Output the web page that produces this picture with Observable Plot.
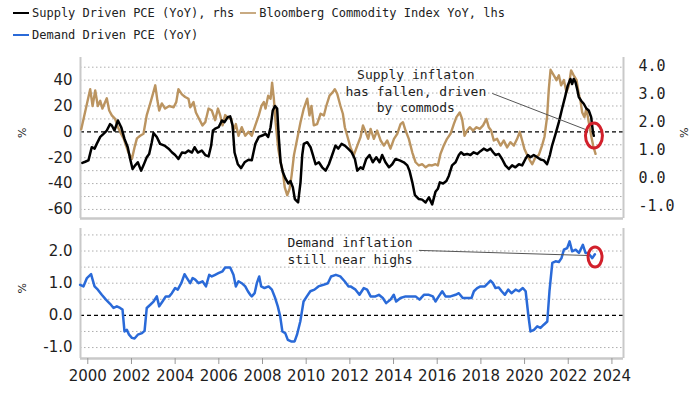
<!DOCTYPE html>
<html><head><meta charset="utf-8">
<script src="https://cdn.jsdelivr.net/npm/d3@7"></script>
<script src="https://cdn.jsdelivr.net/npm/@observablehq/plot@0.6"></script>
<style>
body{margin:0;background:#fff;}
#wrap{position:relative;width:700px;height:394px;overflow:hidden;font-family:"DejaVu Sans Mono",monospace;background:#fff;}
.leg{position:absolute;left:13px;font-size:12px;color:#222;white-space:nowrap;line-height:14px;}
.sw{display:inline-block;width:16px;height:2px;vertical-align:middle;margin-right:3px;position:relative;top:-1px}
#top{position:absolute;left:0;top:45px}
#bot{position:absolute;left:0;top:223px}
</style></head><body>
<div id="wrap">
<div class="leg" style="top:6px"><span class="sw" style="background:#000"></span>Supply Driven PCE (YoY), rhs<span class="sw" style="background:#c8aa82;margin-left:6px"></span>Bloomberg Commodity Index YoY, lhs</div>
<div class="leg" style="top:28px"><span class="sw" style="background:#2a6ad8"></span>Demand Driven PCE (YoY)</div>
<div id="top"></div><div id="bot"></div>
</div>
<script>
// ---- Data (decimal years) ----
const supplyYears = [1999.75,1999.88,2000.03,2000.18,2000.31,2000.41,2000.57,2000.72,2000.87,2001.02,2001.10,2001.22,2001.38,2001.53,2001.68,2001.83,2001.94,2002.05,2002.17,2002.29,2002.44,2002.55,2002.70,2002.81,2002.93,2003.01,2003.16,2003.31,2003.51,2003.70,2003.85,2004.00,2004.15,2004.31,2004.46,2004.61,2004.77,2004.89,2005.04,2005.22,2005.38,2005.53,2005.65,2005.73,2005.86,2005.99,2006.14,2006.26,2006.41,2006.52,2006.63,2006.72,2006.87,2007.02,2007.18,2007.36,2007.51,2007.67,2007.83,2007.99,2008.14,2008.26,2008.37,2008.47,2008.57,2008.67,2008.75,2008.83,2008.93,2009.05,2009.18,2009.28,2009.39,2009.48,2009.63,2009.74,2009.82,2009.89,2010.05,2010.20,2010.31,2010.43,2010.58,2010.73,2010.89,2011.04,2011.19,2011.34,2011.47,2011.62,2011.77,2011.92,2012.08,2012.23,2012.34,2012.49,2012.60,2012.75,2012.90,2013.05,2013.21,2013.36,2013.48,2013.63,2013.79,2013.94,2014.09,2014.28,2014.47,2014.63,2014.73,2014.86,2014.98,2015.16,2015.31,2015.47,2015.62,2015.77,2015.92,2016.03,2016.12,2016.27,2016.42,2016.53,2016.68,2016.84,2016.99,2017.09,2017.22,2017.37,2017.52,2017.67,2017.83,2017.98,2018.13,2018.29,2018.44,2018.56,2018.67,2018.82,2018.97,2019.12,2019.28,2019.43,2019.58,2019.74,2019.89,2020.04,2020.15,2020.27,2020.42,2020.58,2020.73,2020.88,2021.03,2021.16,2021.26,2021.42,2021.57,2021.72,2021.87,2021.98,2022.10,2022.18,2022.25,2022.33,2022.41,2022.48,2022.59,2022.71,2022.83,2022.94,2023.05,2023.13,2023.17];
const supplyValues = [0.54,0.58,0.63,1.10,1.05,1.22,1.47,1.58,1.70,1.93,1.88,1.70,2.06,1.82,1.40,1.10,0.68,0.32,0.45,0.56,0.26,0.45,0.74,0.86,1.28,1.61,1.47,1.22,1.16,1.05,0.92,0.82,0.68,0.91,0.89,0.98,0.91,1.10,0.91,0.98,0.82,0.77,1.16,1.70,1.78,1.82,2.06,2.00,2.18,2.21,1.88,0.91,0.49,0.35,0.56,0.65,0.63,1.22,1.47,1.52,1.58,1.47,1.82,2.42,2.58,2.49,1.40,0.56,0.21,-0.02,-0.20,-0.11,-0.34,-0.76,-0.88,-0.16,0.82,1.22,1.28,1.10,0.82,0.49,0.56,0.38,0.26,0.49,0.82,1.16,1.05,1.22,1.16,1.05,0.92,0.68,0.26,0.38,0.32,0.68,0.82,0.56,0.74,0.56,0.82,0.56,0.38,0.49,0.68,0.63,0.56,0.45,0.26,-0.16,-0.62,-0.76,-0.78,-0.88,-0.70,-0.95,-0.50,-0.39,-0.16,-0.20,-0.11,0.07,0.45,0.56,0.82,0.92,0.83,0.86,0.82,0.92,0.86,0.96,1.05,0.98,1.05,0.92,0.82,0.86,0.68,0.45,0.32,0.45,0.38,0.49,0.45,0.68,0.82,0.74,0.82,0.74,0.66,0.63,0.49,0.82,1.16,1.58,2.00,2.49,2.95,3.32,3.55,3.37,3.55,3.44,3.18,2.91,2.77,2.66,2.49,2.42,2.18,1.65,1.51];

const commodityYears = [1999.70,2000.11,2000.22,2000.34,2000.46,2000.57,2000.67,2000.87,2000.98,2001.10,2001.25,2001.38,2001.48,2001.64,2001.86,2002.02,2002.14,2002.25,2002.40,2002.55,2002.70,2002.86,2002.96,2003.09,2003.19,2003.27,2003.39,2003.54,2003.73,2003.93,2004.05,2004.15,2004.31,2004.46,2004.61,2004.69,2004.84,2004.95,2005.10,2005.25,2005.38,2005.53,2005.68,2005.83,2005.96,2006.06,2006.17,2006.29,2006.41,2006.57,2006.67,2006.78,2006.90,2007.05,2007.21,2007.36,2007.51,2007.67,2007.83,2007.95,2008.06,2008.14,2008.26,2008.37,2008.44,2008.52,2008.60,2008.72,2008.83,2008.93,2009.02,2009.13,2009.24,2009.33,2009.44,2009.59,2009.74,2009.89,2010.05,2010.15,2010.24,2010.35,2010.50,2010.66,2010.81,2010.92,2011.07,2011.22,2011.31,2011.42,2011.57,2011.68,2011.77,2011.88,2012.03,2012.18,2012.34,2012.49,2012.60,2012.72,2012.84,2012.95,2013.10,2013.25,2013.41,2013.56,2013.71,2013.86,2014.02,2014.17,2014.32,2014.43,2014.55,2014.70,2014.86,2015.01,2015.16,2015.31,2015.47,2015.62,2015.77,2015.92,2016.03,2016.15,2016.30,2016.45,2016.61,2016.76,2016.88,2017.03,2017.14,2017.25,2017.37,2017.49,2017.64,2017.80,2017.95,2018.10,2018.25,2018.36,2018.47,2018.59,2018.74,2018.90,2019.05,2019.20,2019.35,2019.51,2019.66,2019.78,2019.89,2019.99,2020.12,2020.24,2020.35,2020.50,2020.65,2020.80,2020.91,2021.03,2021.11,2021.19,2021.34,2021.46,2021.57,2021.67,2021.80,2021.92,2022.03,2022.13,2022.25,2022.38,2022.48,2022.56,2022.64,2022.74,2022.83,2022.94,2023.05,2023.14,2023.25];
const commodityValues = [2,33,20,32,20,24,18,26,16.5,12.7,10,3.6,0,-5,-16,-21,-12,-5,-3,-1.5,13,22,28,36,24,16.5,22,18,20,19,23,33,29,27,25.6,19,23,15,10,5,7.5,18,16.5,9,18,13,5,13,11,10,1,6,-3,3.6,-3,0,-3,5,12.7,20,23,18,28,25.6,38,25.6,7.5,-13,-23.5,-31,-43,-49,-44,-34,-18,-5.4,7.5,18,25.6,12.7,20,5,6,14,12.7,20,28,30.7,33,29.5,20,14,3.6,-3,-12,-18,-10.6,-4,5,0,-5.4,2.3,-5.4,1,-6.7,-10.6,-6.7,-13,-5.4,-1.5,6,7.5,1,-5.4,-16,-23.5,-26,-25,-27.4,-25.6,-26,-25,-26,-17,-10.6,-5.4,-1.5,6,11.4,15,10,-3,1,3.6,1,3.6,2.3,5,10,3.6,1,-6.7,-5.4,-10.6,-6.7,-12,-8,-10.6,-5.4,0,-6.7,-13,-18,-22,-25,-19.6,-18,-10.6,-4,11.4,33,48,43.7,40,43.7,36,40,30.7,36,47.5,43.7,40,29.5,24,15,11.4,18,7.5,-3,-10.6,-17];

const demandYears = [1999.65,1999.80,1999.96,2000.15,2000.22,2000.31,2000.46,2000.64,2000.83,2001.02,2001.18,2001.33,2001.48,2001.59,2001.68,2001.79,2001.89,2002.02,2002.14,2002.29,2002.48,2002.60,2002.70,2002.86,2003.01,2003.16,2003.27,2003.42,2003.57,2003.73,2003.85,2004.00,2004.12,2004.28,2004.43,2004.54,2004.69,2004.80,2004.92,2005.07,2005.25,2005.41,2005.56,2005.68,2005.83,2005.98,2006.17,2006.29,2006.52,2006.67,2006.78,2006.90,2007.05,2007.21,2007.33,2007.44,2007.51,2007.64,2007.74,2007.85,2007.94,2008.09,2008.28,2008.43,2008.58,2008.70,2008.81,2008.91,2009.04,2009.16,2009.31,2009.47,2009.58,2009.73,2009.88,2010.03,2010.19,2010.38,2010.56,2010.79,2010.99,2011.14,2011.36,2011.56,2011.76,2011.94,2012.03,2012.26,2012.44,2012.64,2012.79,2012.95,2013.17,2013.33,2013.51,2013.66,2013.86,2014.01,2014.12,2014.32,2014.55,2014.78,2015.01,2015.19,2015.39,2015.62,2015.80,2015.92,2016.07,2016.23,2016.38,2016.61,2016.84,2016.99,2017.17,2017.37,2017.57,2017.68,2017.83,2017.98,2018.18,2018.33,2018.44,2018.55,2018.67,2018.82,2018.95,2019.10,2019.25,2019.40,2019.59,2019.74,2019.92,2020.05,2020.17,2020.27,2020.43,2020.58,2020.73,2020.88,2021.04,2021.14,2021.27,2021.42,2021.57,2021.69,2021.80,2021.95,2022.06,2022.18,2022.34,2022.49,2022.67,2022.79,2022.91,2023.10,2023.22];
const demandValues = [0.95,0.90,1.16,1.28,1.11,0.90,0.80,0.64,0.49,0.36,0.23,0.28,0.23,0.18,-0.50,-0.45,-0.60,-0.70,-0.72,-0.60,-0.55,-0.48,0.23,0.33,0.43,0.59,0.28,0.43,0.59,0.59,0.69,0.85,0.80,1.00,1.28,1.16,1.00,1.16,1.11,1.00,1.06,0.90,1.26,1.21,1.26,1.31,1.37,1.49,1.49,1.26,0.90,1.06,1.00,0.90,0.75,0.64,0.59,0.69,1.00,1.21,0.90,0.85,0.90,0.80,0.54,0.28,-0.03,-0.50,-0.55,-0.76,-0.81,-0.81,-0.60,-0.19,0.43,0.59,0.75,0.80,0.90,0.95,1.00,1.21,1.26,1.21,1.06,0.90,0.90,0.80,0.64,0.85,0.80,0.59,0.59,0.64,0.54,0.38,0.49,0.64,0.43,0.54,0.59,0.59,0.59,0.49,0.64,0.64,0.59,0.43,0.59,0.75,0.59,0.59,0.64,0.69,0.54,0.54,0.54,0.75,0.85,0.90,0.90,1.00,1.08,1.00,0.85,0.87,0.75,0.64,0.80,0.69,0.80,0.75,0.85,0.75,0.02,-0.50,-0.45,-0.34,-0.39,-0.29,-0.19,0.75,1.63,1.68,1.66,1.78,2.04,2.09,2.30,1.99,2.04,1.94,2.19,1.94,1.94,1.78,1.90];

const leftTicks = [-60,-40,-20,0,20,40];
const rightTicks = [-1,0,1,2,3,4];
const demandTicks = [-1,0,1,2];
const xTicks = [2000,2002,2004,2006,2008,2010,2012,2014,2016,2018,2020,2022,2024];
const leftGrid = [-60,-50,-40,-30,-20,-10,10,20,30,40,50];
const demandGrid = [-1,-0.5,0.5,1,1.5,2,2.5];

const supplyNote = "Supply inflaton\nhas fallen, driven\nby commods";
const demandNote = "Demand inflation\nstill near highs";

// ---- build ----
const toL = r => r * 21.55 - 35.6;     // rhs -> lhs units
const fromL = l => (l + 35.6) / 21.55;
const xDomain = [1999.666, 2024.53];
const yTop = [-67, 57.5];
const yBot = [-1.34, 2.70];

const supply = supplyYears.map((t, i) => ({t, v: supplyValues[i]}));
const commodity = commodityYears.map((t, i) => ({t, v: commodityValues[i]}));
const demand = demandYears.map((t, i) => ({t, v: demandValues[i]}));

const gray = "#c9c9c9";
const ink = "#1e1e1e";

const topPlot = Plot.plot({
  width: 700, height: 178,
  marginLeft: 80, marginRight: 77, marginTop: 12, marginBottom: 5,
  x: {domain: xDomain, axis: null},
  y: {domain: yTop},
  style: {fontFamily: "DejaVu Sans", background: "transparent", color: ink},
  marks: [
    Plot.gridY(leftGrid, {stroke: "#9a9a9a", strokeOpacity: 0.8, strokeDasharray: "1.5,2.5"}),
    Plot.ruleY([0], {stroke: "#000", strokeWidth: 1.3, strokeDasharray: "4,3"}),
    Plot.ruleX(xDomain, {stroke: gray, strokeWidth: 2}),
    Plot.ruleY([yTop[0]], {stroke: gray, strokeWidth: 2.5}),
    Plot.axisY({ticks: leftTicks, tickFormat: d => String(d), tickSize: 0, tickPadding: 8, fontSize: 15, label: null}),
    Plot.axisY({anchor: "right", ticks: rightTicks.map(toL), tickFormat: d => fromL(d).toFixed(1), tickSize: 0, tickPadding: 15, fontSize: 15, fontFamily: "DejaVu Sans Mono", label: null}),
    Plot.lineY(commodity, {x: "t", y: "v", stroke: "#bb9460", strokeWidth: 2.4}),
    Plot.lineY(supply, {x: "t", y: d => toL(d.v), stroke: "#000", strokeWidth: 2.5}),
    Plot.text(["%"], {frameAnchor: "left", dx: -58, rotate: -90, fontSize: 11}),
    Plot.text(["%"], {frameAnchor: "right", dx: 60, rotate: 90, fontSize: 11}),
    Plot.link([{x1: 2018.52, y1: 29.7, x2: 2022.92, y2: 1.0}], {x1: "x1", y1: "y1", x2: "x2", y2: "y2", stroke: "#555", strokeWidth: 1}),
    Plot.text([{x: 2015.02, y: 32, s: supplyNote}], {x: "x", y: "y", text: "s", fontFamily: "DejaVu Sans Mono", fontSize: 13, lineHeight: 1.28, textAnchor: "middle", fill: ink})
  ]
});

const botPlot = Plot.plot({
  width: 700, height: 171,
  marginLeft: 80, marginRight: 77, marginTop: 5, marginBottom: 36,
  x: {domain: xDomain},
  y: {domain: yBot},
  style: {fontFamily: "DejaVu Sans", background: "transparent", color: ink},
  marks: [
    Plot.gridY(demandGrid, {stroke: "#9a9a9a", strokeOpacity: 0.8, strokeDasharray: "1.5,2.5"}),
    Plot.ruleY([0], {stroke: "#000", strokeWidth: 1.3, strokeDasharray: "4,3"}),
    Plot.ruleX(xDomain, {stroke: gray, strokeWidth: 2}),
    Plot.ruleY([yBot[0]], {stroke: gray, strokeWidth: 2.5}),
    Plot.axisY({ticks: demandTicks, tickFormat: d => d.toFixed(1), tickSize: 0, tickPadding: 8, fontSize: 15, label: null}),
    Plot.axisX({ticks: xTicks, tickFormat: d => String(d), tickSize: 6, tickPadding: 6, fontSize: 15, stroke: "#999", label: null}),
    Plot.lineY(demand, {x: "t", y: "v", stroke: "#2a6ad8", strokeWidth: 2.5}),
    Plot.text(["%"], {frameAnchor: "left", dx: -58, rotate: -90, fontSize: 11}),
    Plot.link([{x1: 2015.16, y1: 2.02, x2: 2022.94, y2: 1.86}], {x1: "x1", y1: "y1", x2: "x2", y2: "y2", stroke: "#555", strokeWidth: 1}),
    Plot.text([{x: 2009.14, y: 2.02, s: demandNote}], {x: "x", y: "y", text: "s", fontFamily: "DejaVu Sans Mono", fontSize: 13, lineHeight: 1.25, textAnchor: "start", fill: ink})
  ]
});

function addEllipse(plot, cx, cy, rx, ry) {
  const sx = plot.scale("x"), sy = plot.scale("y");
  d3.select(plot).append("ellipse")
    .attr("cx", sx.apply(cx)).attr("cy", sy.apply(cy))
    .attr("rx", rx).attr("ry", ry)
    .attr("fill", "none").attr("stroke", "#d2202b").attr("stroke-width", 3);
}
addEllipse(topPlot, 2023.20, -3.3, 8.5, 12.5);
addEllipse(botPlot, 2023.25, 1.80, 7, 10);

document.getElementById("top").appendChild(topPlot);
document.getElementById("bot").appendChild(botPlot);
</script>
</body></html>
